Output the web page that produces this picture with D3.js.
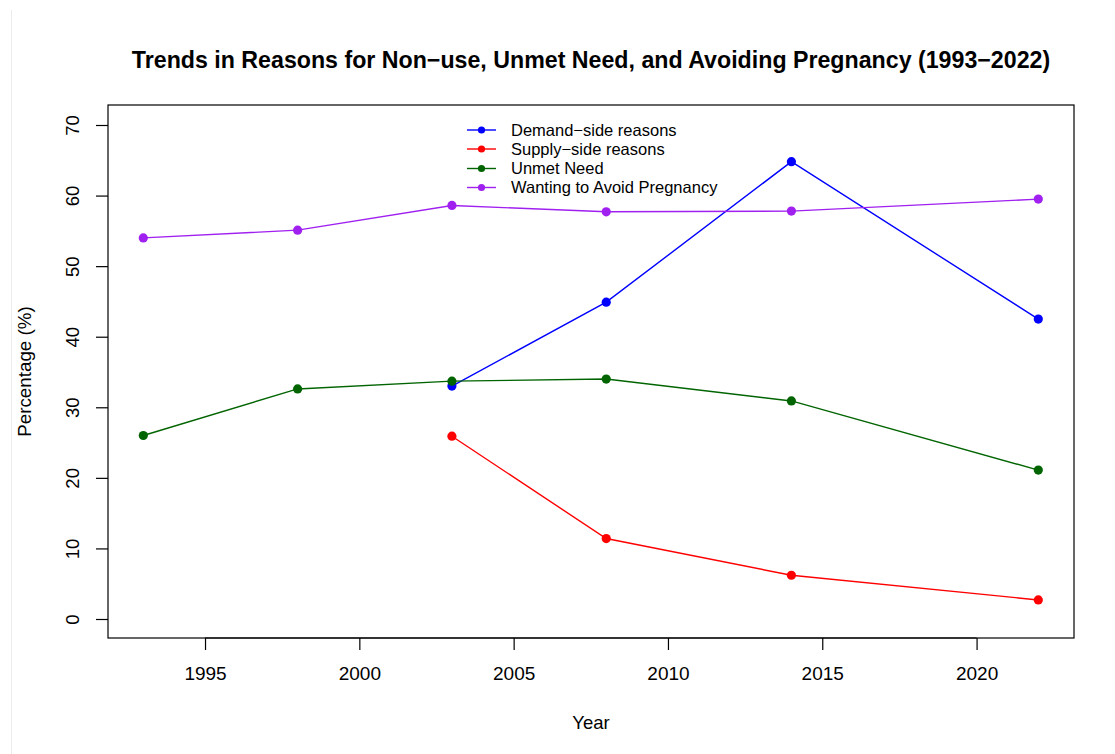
<!DOCTYPE html>
<html>
<head>
<meta charset="utf-8">
<script src="https://cdn.jsdelivr.net/npm/d3@7"></script>
<style>
  html, body { margin: 0; padding: 0; background: #fff; }
  svg { display: block; font-family: "Liberation Sans", Arial, Helvetica, sans-serif; }
</style>
</head>
<body>
<svg id="chart" width="1115" height="754"></svg>
<script>
// Survey years and series (percent)
const years = [1993, 1998, 2003, 2008, 2014, 2022];
const demandYears = [2003, 2008, 2014, 2022];
const demandSide = [33.0, 44.9, 64.8, 42.5];
const supplyYears = [2003, 2008, 2014, 2022];
const supplySide = [25.9, 11.4, 6.2, 2.7];
const unmetNeed = [26.0, 32.6, 33.7, 34.0, 30.9, 21.1];
const avoidPregnancy = [54.0, 55.1, 58.6, 57.7, 57.8, 59.5];

const xTicks = [1995, 2000, 2005, 2010, 2015, 2020];
const yTicks = [0, 10, 20, 30, 40, 50, 60, 70];

const seriesNames = ["Demand\u2212side reasons", "Supply\u2212side reasons", "Unmet Need", "Wanting to Avoid Pregnancy"];
const seriesColors = ["#0000FF", "#FF0000", "#006400", "#A020F0"];

const series = [
  { name: seriesNames[0], color: seriesColors[0], pts: demandYears.map((y, i) => [y, demandSide[i]]) },
  { name: seriesNames[1], color: seriesColors[1], pts: supplyYears.map((y, i) => [y, supplySide[i]]) },
  { name: seriesNames[2], color: seriesColors[2], pts: years.map((y, i) => [y, unmetNeed[i]]) },
  { name: seriesNames[3], color: seriesColors[3], pts: years.map((y, i) => [y, avoidPregnancy[i]]) }
];

const svg = d3.select("#chart");

// plot frame
const box = { left: 108, right: 1074, top: 105, bottom: 638 };

const x = d3.scaleLinear().domain([1993, 2022]).range([143.3, 1038.3]);
const y = d3.scaleLinear().domain([0, 70]).range([619, 125]);

// faint page edge
svg.append("line")
  .attr("x1", 11.5).attr("x2", 11.5).attr("y1", 10).attr("y2", 754)
  .attr("stroke", "#ececec").attr("stroke-width", 1);

// title
svg.append("text")
  .attr("x", (box.left + box.right) / 2)
  .attr("y", 68)
  .attr("text-anchor", "middle")
  .attr("font-weight", "bold")
  .attr("font-size", 23.2)
  .attr("fill", "#000")
  .text("Trends in Reasons for Non\u2212use, Unmet Need, and Avoiding Pregnancy (1993\u22122022)");

// x axis
const xAxis = d3.axisBottom(x).tickValues(xTicks).tickSize(12).tickPadding(17).tickFormat(d3.format("d"));
const gx = svg.append("g").attr("transform", `translate(0,${box.bottom})`).call(xAxis);
gx.select(".domain").remove();
gx.selectAll(".tick line").attr("stroke", "#000").attr("stroke-width", 1.2);
gx.selectAll(".tick text").attr("font-size", 19).attr("fill", "#000")
  .attr("font-family", "Liberation Sans, Arial, sans-serif");
svg.append("line")
  .attr("x1", x(1995)).attr("x2", x(2020))
  .attr("y1", box.bottom).attr("y2", box.bottom)
  .attr("stroke", "#000").attr("stroke-width", 1.2);

// y axis (labels rotated, parallel to the axis)
const yAxis = d3.axisLeft(y).tickValues(yTicks).tickSize(12).tickFormat(d3.format("d"));
const gy = svg.append("g").attr("transform", `translate(${box.left},0)`).call(yAxis);
gy.select(".domain").remove();
gy.selectAll(".tick line").attr("stroke", "#000").attr("stroke-width", 1.2);
gy.selectAll(".tick text")
  .attr("font-size", 18.5).attr("fill", "#000")
  .attr("font-family", "Liberation Sans, Arial, sans-serif")
  .attr("x", null).attr("dy", null)
  .attr("text-anchor", "middle")
  .attr("transform", "translate(-36,0) rotate(-90)")
  .attr("y", 6.5);

// plot box
svg.append("rect")
  .attr("x", box.left).attr("y", box.top)
  .attr("width", box.right - box.left).attr("height", box.bottom - box.top)
  .attr("fill", "none").attr("stroke", "#000").attr("stroke-width", 1.2);

// axis titles
svg.append("text")
  .attr("x", (box.left + box.right) / 2).attr("y", 729)
  .attr("text-anchor", "middle").attr("font-size", 18.5).attr("fill", "#000")
  .text("Year");
svg.append("text")
  .attr("transform", `translate(31,${(box.top + box.bottom) / 2}) rotate(-90)`)
  .attr("text-anchor", "middle").attr("font-size", 18.8).attr("fill", "#000")
  .text("Percentage (%)");

// series lines and points
const line = d3.line().x(d => x(d[0])).y(d => y(d[1]));
series.forEach(s => {
  const g = svg.append("g");
  g.append("path")
    .attr("d", line(s.pts))
    .attr("fill", "none")
    .attr("stroke", s.color)
    .attr("stroke-width", 1.4);
  g.selectAll("circle").data(s.pts).enter().append("circle")
    .attr("cx", d => x(d[0])).attr("cy", d => y(d[1]))
    .attr("r", 4.6).attr("fill", s.color);
});

// legend
const legend = svg.append("g");
const legendRows = [130, 149, 168.5, 187.5];
series.forEach((s, i) => {
  const ly = legendRows[i];
  legend.append("line")
    .attr("x1", 467).attr("x2", 496).attr("y1", ly).attr("y2", ly)
    .attr("stroke", s.color).attr("stroke-width", 1.4);
  legend.append("circle")
    .attr("cx", 481.5).attr("cy", ly).attr("r", 3.6).attr("fill", s.color);
  legend.append("text")
    .attr("x", 511).attr("y", ly)
    .attr("dy", "0.36em")
    .attr("font-size", 16.5).attr("fill", "#000")
    .text(s.name);
});
</script>
</body>
</html>
